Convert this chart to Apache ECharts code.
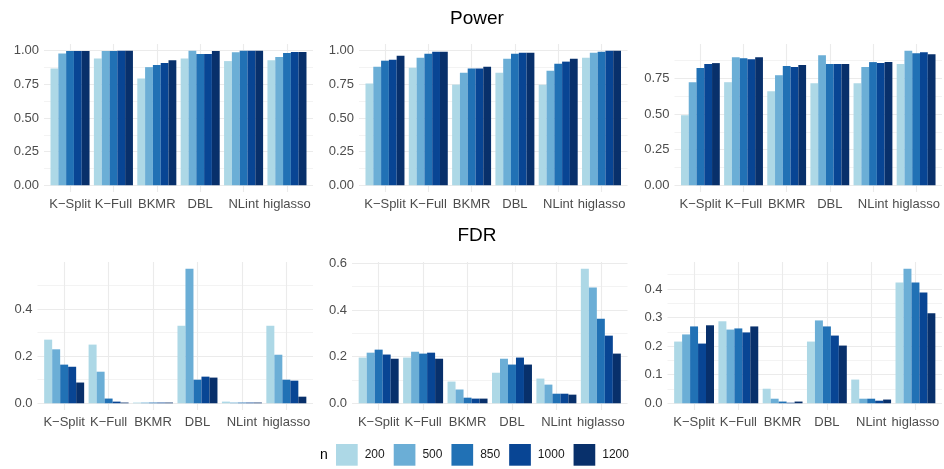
<!DOCTYPE html>
<html><head><meta charset="utf-8">
<script src="https://cdn.jsdelivr.net/npm/echarts@6/dist/echarts.min.js"></script>
<style>html,body{margin:0;padding:0;background:#fff}#c{width:944px;height:469px}</style>
</head><body><div id="c"></div>
<script>
// ---------- DATA ----------
const methods = ['K\u2212Split', 'K\u2212Full', 'BKMR', 'DBL', 'NLint', 'higlasso'];
const sampleSizes = ['200', '500', '850', '1000', '1200'];

// rows = sample size (200, 500, 850, 1000, 1200); columns = methods
const powerA = [
  [0.868, 0.943, 0.794, 0.943, 0.923, 0.930],
  [0.980, 0.998, 0.878, 1.000, 0.988, 0.953],
  [0.998, 0.998, 0.893, 0.975, 1.000, 0.983],
  [0.998, 1.000, 0.908, 0.975, 1.000, 0.990],
  [0.998, 1.000, 0.930, 0.998, 1.000, 0.990]
];
const powerB = [
  [0.756, 0.874, 0.748, 0.837, 0.748, 0.948],
  [0.881, 0.948, 0.837, 0.941, 0.852, 0.985],
  [0.926, 0.978, 0.867, 0.978, 0.904, 0.993],
  [0.933, 0.993, 0.867, 0.985, 0.919, 1.000],
  [0.963, 0.993, 0.881, 0.985, 0.941, 1.000]
];
const powerC = [
  [0.492, 0.724, 0.661, 0.717, 0.717, 0.851],
  [0.724, 0.900, 0.773, 0.914, 0.830, 0.945],
  [0.823, 0.893, 0.837, 0.851, 0.865, 0.928],
  [0.851, 0.886, 0.830, 0.851, 0.858, 0.935],
  [0.858, 0.900, 0.844, 0.851, 0.865, 0.921]
];
const fdrA = [
  [0.270, 0.249, 0.003, 0.329, 0.007, 0.329],
  [0.229, 0.134, 0.003, 0.571, 0.003, 0.206],
  [0.164, 0.020, 0.003, 0.100, 0.003, 0.100],
  [0.155, 0.007, 0.003, 0.113, 0.003, 0.096],
  [0.088, 0.003, 0.003, 0.109, 0.003, 0.028]
];
const fdrB = [
  [0.196, 0.196, 0.093, 0.131, 0.106, 0.577],
  [0.217, 0.221, 0.059, 0.191, 0.080, 0.496],
  [0.230, 0.213, 0.024, 0.166, 0.041, 0.363],
  [0.209, 0.217, 0.020, 0.196, 0.041, 0.290],
  [0.191, 0.191, 0.020, 0.166, 0.037, 0.213]
];
const fdrC = [
  [0.216, 0.287, 0.051, 0.216, 0.083, 0.423],
  [0.241, 0.258, 0.016, 0.290, 0.016, 0.471],
  [0.269, 0.262, 0.006, 0.269, 0.016, 0.423],
  [0.209, 0.248, 0.002, 0.237, 0.009, 0.388],
  [0.273, 0.269, 0.006, 0.202, 0.013, 0.315]
];

const powerTicks = [0, 0.25, 0.5, 0.75, 1.0];
const fdrTicksAB = [0, 0.2, 0.4, 0.6];
const fdrTicksC = [0, 0.1, 0.2, 0.3, 0.4, 0.5];

// ---------- STYLE / LAYOUT ----------
const colors = ['#ADD8E6', '#6BAED6', '#2171B5', '#084594', '#08306B'];
const FONT = 'Liberation Sans, Arial, Helvetica, sans-serif';
const gridColor = '#EBEBEB';

const panels = [
  {data: powerA, ticks: powerTicks, dec: 2, L: 44,    R: 313, T: 44,  B: 192},
  {data: powerB, ticks: powerTicks, dec: 2, L: 359,   R: 627.5, T: 44,  B: 192},
  {data: powerC, ticks: powerTicks, dec: 2, L: 674.5, R: 942, T: 44,  B: 192},
  {data: fdrA,   ticks: fdrTicksAB, dec: 1, L: 37.5,  R: 313, T: 262, B: 410},
  {data: fdrB,   ticks: fdrTicksAB, dec: 1, L: 352,   R: 627.5, T: 262, B: 410},
  {data: fdrC,   ticks: fdrTicksC,  dec: 1, L: 667.5, R: 942, T: 262, B: 410}
];

const grid = [], xAxis = [], yAxis = [], series = [];
panels.forEach((p, k) => {
  const M = Math.max(...p.data.flat());
  const yMin = -0.05 * M, yMax = 1.05 * M;
  const step = p.ticks[1] - p.ticks[0];
  const majors = p.ticks.filter(v => v >= yMin && v <= yMax);
  const minors = p.ticks.map(v => +(v + step / 2).toFixed(6)).filter(v => v >= yMin && v <= yMax);
  const W = p.R - p.L, H = p.B - p.T;
  const inset = W / 62;
  grid.push({left: p.L, top: p.T, width: W, height: H});
  grid.push({left: p.L + inset, top: p.T, width: W - 2 * inset, height: H});
  // background x axis (vertical grid lines at category centres)
  xAxis.push({
    gridIndex: 2 * k, type: 'value', min: -0.6, max: 5.6,
    axisLine: {show: false}, axisLabel: {show: false},
    axisTick: {show: false, customValues: [0, 1, 2, 3, 4, 5]},
    splitLine: {show: true, lineStyle: {color: gridColor, width: 1.1}}
  });
  // category x axis for bars
  xAxis.push({
    gridIndex: 2 * k + 1, type: 'category', data: methods,
    axisLine: {show: false}, axisTick: {show: false}, splitLine: {show: false},
    axisLabel: {interval: 0, hideOverlap: false, margin: 6, fontSize: 13, color: '#4D4D4D', fontFamily: FONT}
  });
  // major y axis with labels
  yAxis.push({
    gridIndex: 2 * k, type: 'value', min: yMin, max: yMax,
    axisLine: {show: false},
    axisTick: {show: false, customValues: majors},
    axisLabel: {customValues: majors, margin: 5, fontSize: 13, color: '#4D4D4D', fontFamily: FONT,
      formatter: v => Number(v).toFixed(p.dec)},
    splitLine: {show: true, lineStyle: {color: gridColor, width: 1.1}}
  });
  // minor y grid lines
  yAxis.push({
    gridIndex: 2 * k, type: 'value', min: yMin, max: yMax,
    axisLine: {show: false}, axisLabel: {show: false},
    axisTick: {show: false, customValues: minors},
    splitLine: {show: true, lineStyle: {color: gridColor, width: 0.6}}
  });
  // hidden y axis for bars
  yAxis.push({gridIndex: 2 * k + 1, type: 'value', min: yMin, max: yMax, show: false});
  p.data.forEach((row, j) => {
    series.push({
      type: 'bar', name: sampleSizes[j], data: row,
      xAxisIndex: 2 * k + 1, yAxisIndex: 3 * k + 2,
      barGap: '0%', barCategoryGap: '10%',
      itemStyle: {color: colors[j]},
      emphasis: {disabled: true}
    });
  });
});

const chart = echarts.init(document.getElementById('c'), null, {renderer: 'canvas'});
chart.setOption({
  animation: false,
  textStyle: {fontFamily: FONT},
  grid, xAxis, yAxis, series,
  legend: {
    data: sampleSizes, left: 336, top: 444, orient: 'horizontal', padding: 0,
    itemWidth: 21.7, itemHeight: 21.7, itemGap: 9, icon: 'rect',
    textStyle: {fontSize: 12, color: '#1A1A1A', fontFamily: FONT, padding: [0, 0, 0, 2]},
    selectedMode: false
  },
  graphic: [
    {type: 'text', x: 477, y: 19, style: {text: 'Power', align: 'center', verticalAlign: 'middle', fontSize: 19, fill: '#000', fontFamily: FONT}},
    {type: 'text', x: 477, y: 236, style: {text: 'FDR', align: 'center', verticalAlign: 'middle', fontSize: 19, fill: '#000', fontFamily: FONT}},
    {type: 'text', x: 320, y: 455, style: {text: 'n', align: 'left', verticalAlign: 'middle', fontSize: 14, fill: '#000', fontFamily: FONT}}
  ]
});
</script>
</body></html>
